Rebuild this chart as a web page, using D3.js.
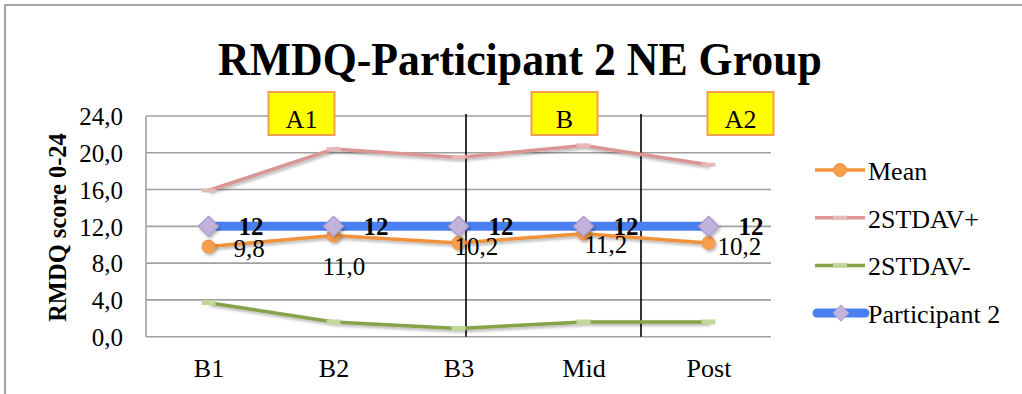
<!DOCTYPE html>
<html><head><meta charset="utf-8">
<script src="https://cdn.jsdelivr.net/npm/d3@7"></script>
<style>
html,body{margin:0;padding:0;background:#fff;}
svg{display:block;}
text{font-family:"Liberation Serif","DejaVu Serif",serif;fill:#000;}
</style></head>
<body><svg id="c" width="1022" height="394"></svg>
<script>
// ---- data ----
const categories = ["B1","B2","B3","Mid","Post"];
const meanValues = [9.8, 11.0, 10.2, 11.2, 10.2];
const stdPlusValues = [15.9, 20.4, 19.5, 20.8, 18.7];
const stdMinusValues = [3.7, 1.6, 0.9, 1.6, 1.6];
const participantValues = [12, 12, 12, 12, 12];
const yTicks = [0, 4, 8, 12, 16, 20, 24];
const seriesNames = ["Mean", "2STDAV+", "2STDAV-", "Participant 2"];
const phaseLabels = ["A1", "B", "A2"];
const phaseLabelCenters = [0.744, 2.848, 4.256];  // in category-index units
const phaseDividers = [2.06, 3.46];               // in category-index units
// label nudges for mean value labels [dx, dy-to-baseline] (layout only)
const meanLabelNudge = [[25,10],[-11,39.5],[-4,12],[1,19.6],[9,12]];

const svg = d3.select("#c");
const fmt = v => d3.format(".1f")(v).replace(".", ",");

// frame
svg.append("path").attr("d","M5,400 L5,5 L1030,5").attr("fill","none")
  .attr("stroke","#a6a6a6").attr("stroke-width",2.2);

const x0 = 146, x1 = 771, yTop = 116, yBot = 336.7;
const x = d3.scalePoint().domain(categories).range([x0, x1]).padding(0.5);
const step = x.step();
const xi = i => x(categories[0]) + i * step;
const y = d3.scaleLinear().domain([0, 24]).range([yBot, yTop]);

// title
svg.append("text").attr("x", 520).attr("y", 75).attr("text-anchor","middle")
  .attr("font-size", 47).attr("font-weight","bold")
  .attr("textLength", 604).attr("lengthAdjust","spacingAndGlyphs")
  .text("RMDQ-Participant 2 NE Group");

// gridlines
const gAxis = svg.append("g");
gAxis.selectAll("line.grid").data(yTicks).join("line")
  .attr("x1", x0).attr("x2", x1).attr("y1", d=>y(d)).attr("y2", d=>y(d))
  .attr("stroke","#a0a0a0").attr("stroke-width",1.6);
gAxis.append("line").attr("x1",x0).attr("x2",x0).attr("y1",yTop).attr("y2",yBot)
  .attr("stroke","#a0a0a0").attr("stroke-width",1.6);

// y axis via d3
const yAxis = d3.axisLeft(y).tickValues(yTicks).tickFormat(fmt).tickSize(0).tickPadding(23);
const ya = svg.append("g").attr("transform",`translate(${x0},0)`).call(yAxis);
ya.select(".domain").remove();
ya.selectAll("text").attr("font-size",25).attr("font-family","Liberation Serif").attr("fill","#000").attr("dy","0.35em");

// x axis via d3
const xAxis = d3.axisBottom(x).tickSize(0).tickPadding(22);
const xa = svg.append("g").attr("transform",`translate(0,${yBot})`).call(xAxis);
xa.select(".domain").remove();
xa.selectAll("text").attr("font-size",26).attr("font-family","Liberation Serif").attr("fill","#000");

// y title
svg.append("text").attr("transform",`translate(66,227.5) rotate(-90)`)
  .attr("text-anchor","middle").attr("font-size",24.5).attr("font-weight","bold")
  .text("RMDQ score 0-24");

// phase dividers
svg.selectAll("line.div").data(phaseDividers).join("line")
  .attr("x1", d=>xi(d)).attr("x2", d=>xi(d)).attr("y1", 114).attr("y2", yBot)
  .attr("stroke","#000").attr("stroke-width",1.6);

// phase label boxes
const pb = svg.selectAll("g.pb").data(phaseLabels).join("g")
  .attr("transform",(d,i)=>`translate(${xi(phaseLabelCenters[i])},0)`);
pb.append("rect").attr("x",-33).attr("y",92).attr("width",66).attr("height",43)
  .attr("fill","#ffff00").attr("stroke","#f0a050").attr("stroke-width",2);
pb.append("text").attr("y",128).attr("text-anchor","middle").attr("font-size",26).text(d=>d);

// defs shadow
const defs = svg.append("defs");
const f = defs.append("filter").attr("id","sh").attr("x","-50%").attr("y","-50%").attr("width","200%").attr("height","200%");
f.append("feDropShadow").attr("dx",1.5).attr("dy",2).attr("stdDeviation",1.5).attr("flood-color","#000").attr("flood-opacity",0.3);

const line = d3.line().x((d,i)=>x(categories[i])).y(d=>y(d));

// 2STDAV+
svg.append("path").datum(stdPlusValues).attr("d",line).attr("fill","none")
  .attr("stroke","#d99694").attr("stroke-width",3.5).attr("filter","url(#sh)");
svg.selectAll("rect.sp").data(stdPlusValues).join("rect")
  .attr("x",(d,i)=>x(categories[i])-7).attr("y",d=>y(d)-2).attr("width",14).attr("height",4)
  .attr("fill","#e6b9b8");
// 2STDAV-
svg.append("path").datum(stdMinusValues).attr("d",line).attr("fill","none")
  .attr("stroke","#86a34a").attr("stroke-width",3.5).attr("filter","url(#sh)");
svg.selectAll("rect.sm").data(stdMinusValues).join("rect")
  .attr("x",(d,i)=>x(categories[i])-7).attr("y",d=>y(d)-2.5).attr("width",14).attr("height",5)
  .attr("fill","#c3d69b");

// Participant line
svg.append("path").datum(participantValues).attr("d",line).attr("fill","none")
  .attr("stroke","#4a7ff0").attr("stroke-width",9);

// Mean
svg.append("path").datum(meanValues).attr("d",line).attr("fill","none")
  .attr("stroke","#f0923b").attr("stroke-width",3.5).attr("filter","url(#sh)");
svg.selectAll("circle.mn").data(meanValues).join("circle")
  .attr("cx",(d,i)=>x(categories[i])).attr("cy",d=>y(d)).attr("r",6.5)
  .attr("fill","#f79f4d").attr("stroke","#f0923b").attr("stroke-width",1).attr("filter","url(#sh)");

// Participant diamonds
const dsym = d3.symbol().type(d3.symbolDiamond2).size(260);
svg.selectAll("path.pd").data(participantValues).join("path")
  .attr("d", dsym).attr("transform",(d,i)=>`translate(${x(categories[i])},${y(d)})`)
  .attr("fill","#c2b3dd").attr("stroke","#a898c9").attr("stroke-width",1.2).attr("filter","url(#sh)");

// participant labels
svg.selectAll("text.pl").data(participantValues).join("text")
  .attr("x",(d,i)=>x(categories[i])+30).attr("y",d=>y(d)+8.7)
  .attr("font-size",25).attr("font-weight","bold").text(d=>d);

// mean labels
svg.selectAll("text.ml").data(meanValues).join("text")
  .attr("x",(d,i)=>x(categories[i])+meanLabelNudge[i][0])
  .attr("y",(d,i)=>y(d)+meanLabelNudge[i][1])
  .attr("font-size",25).text(d=>fmt(d));

// legend
const lg = svg.append("g").attr("transform","translate(815,170)");
const li = lg.selectAll("g").data(seriesNames).join("g").attr("transform",(d,i)=>`translate(0,${i*47.7})`);
li.append("text").attr("x",53).attr("y",10).attr("font-size",26).text(d=>d);
const l0 = lg.select("g:nth-child(1)");
l0.append("line").attr("x1",0).attr("x2",50).attr("stroke","#f0923b").attr("stroke-width",3.5);
l0.append("circle").attr("cx",25).attr("r",6.5).attr("fill","#f79f4d").attr("stroke","#f0923b");
const l1 = lg.select("g:nth-child(2)");
l1.append("line").attr("x1",0).attr("x2",50).attr("stroke","#d99694").attr("stroke-width",3.5);
l1.append("rect").attr("x",18).attr("y",-2).attr("width",14).attr("height",4).attr("fill","#e6b9b8");
const l2 = lg.select("g:nth-child(3)");
l2.append("line").attr("x1",0).attr("x2",50).attr("stroke","#86a34a").attr("stroke-width",3.5);
l2.append("rect").attr("x",18).attr("y",-2.5).attr("width",14).attr("height",5).attr("fill","#c3d69b");
const l3 = lg.select("g:nth-child(4)");
l3.append("line").attr("x1",2).attr("x2",50).attr("stroke","#4a7ff0").attr("stroke-width",9).attr("stroke-linecap","round");
l3.append("path").attr("d",d3.symbol().type(d3.symbolDiamond2).size(170)).attr("transform","translate(26,0)")
  .attr("fill","#c2b3dd").attr("stroke","#a898c9");
</script></body></html>
